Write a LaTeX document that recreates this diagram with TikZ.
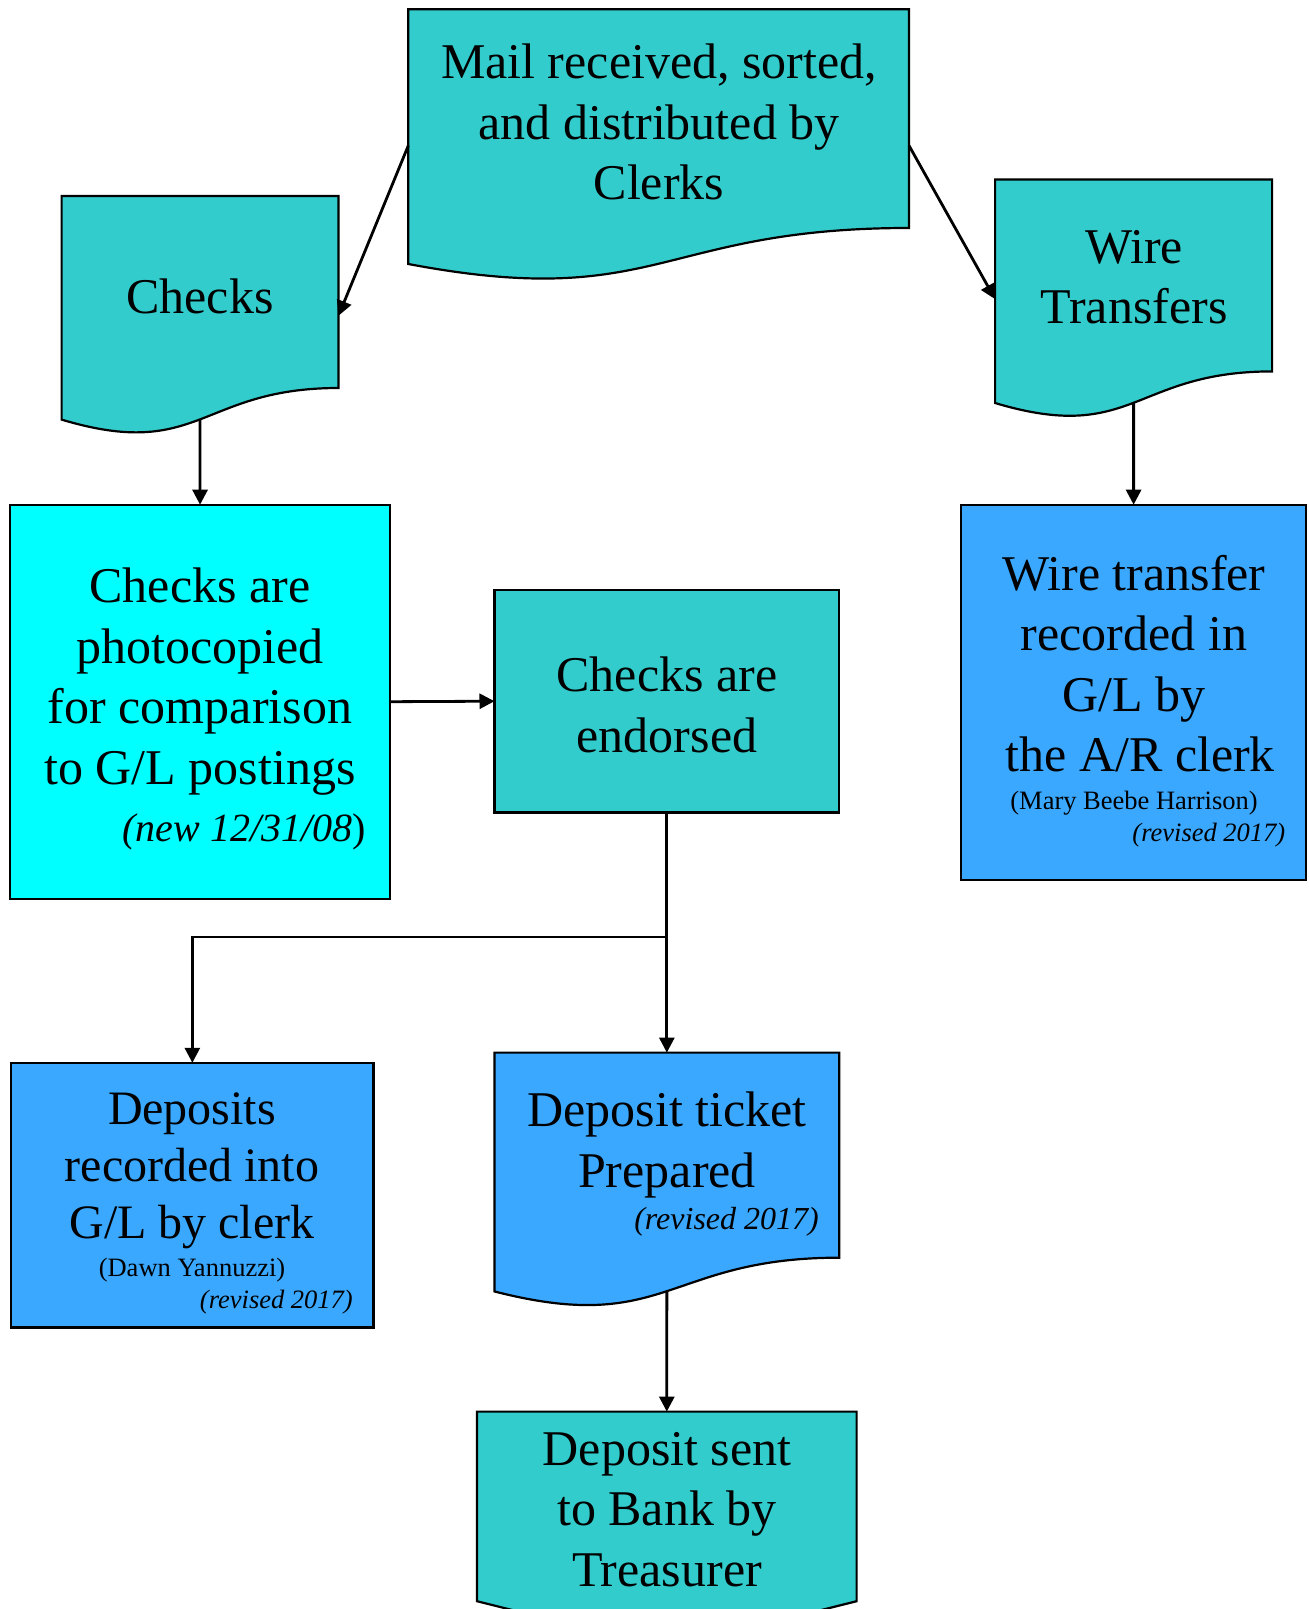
\documentclass[tikz,border=0pt]{standalone}
\usepackage{fontspec}
\setmainfont{Liberation Serif}
\usetikzlibrary{arrows.meta,calc}
\definecolor{tealfill}{RGB}{51,204,204}
\definecolor{cyanfill}{RGB}{0,255,255}
\definecolor{bluefill}{RGB}{58,168,255}
\tikzset{
  shapebox/.style={draw=black, line width=2.2pt, inner sep=0pt, outer sep=0pt},
  frame/.style={draw=none, inner sep=0pt, outer sep=0pt},
  docline/.style={draw=black, line width=2.2pt, line join=miter},
  conn/.style={line width=2.8pt, -{Triangle[length=15pt,width=15pt]}},
  bigtext/.style={align=center, inner sep=0pt, anchor=north, font=\fontsize{50}{60.5}\selectfont},
  midtext/.style={align=center, inner sep=0pt, anchor=north, font=\fontsize{48}{57}\selectfont},
  smalltext/.style={inner sep=0pt, font=\fontsize{26.5}{32}\selectfont},
}
\newcommand\drawdocshape[2]{%
  \draw[docline, fill=#2] (#1.north west) -- (#1.north east)
    -- ($(#1.north east)!0.802!(#1.south east)$)
    .. controls ($(#1.north)!0.802!(#1.south)$) and ($(#1.north)!1.1075!(#1.south)$)
    .. ($(#1.north west)!0.934!(#1.south west)$) -- cycle;}
\begin{document}
\begin{tikzpicture}[x=1pt,y=-1pt]
\useasboundingbox (0,0) rectangle (1309,1609);
\clip (0,0) rectangle (1309,1609);

% document-shaped frames
\node[frame, minimum width=500.7pt, minimum height=272.8pt] (mail) at (658.65,145.6) {};
\node[frame, minimum width=276.9pt, minimum height=239.4pt] (checks) at (200.05,315.7) {};
\node[frame, minimum width=277pt, minimum height=239.3pt] (wire) at (1133.6,299.15) {};
\node[frame, minimum width=344.7pt, minimum height=255.7pt] (ticket) at (666.85,1180.45) {};
\node[frame, minimum width=379.6pt, minimum height=237pt] (sent) at (666.8,1530.1) {};

\drawdocshape{mail}{tealfill}
\drawdocshape{checks}{tealfill}
\drawdocshape{wire}{tealfill}
\drawdocshape{ticket}{bluefill}
\draw[docline, fill=tealfill] (sent.north west) -- (sent.north east)
  -- ($(sent.north east)!0.8!(sent.south east)$) -- (sent.south)
  -- ($(sent.north west)!0.8!(sent.south west)$) -- cycle;

% rectangles
\node[shapebox, fill=cyanfill, minimum width=379.5pt, minimum height=394pt] (photo) at (200.05,701.7) {};
\node[shapebox, fill=tealfill, minimum width=344.7pt, minimum height=222.6pt] (endorsed) at (666.85,701.2) {};
\node[shapebox, fill=bluefill, minimum width=344.8pt, minimum height=375.5pt] (wirerec) at (1133.6,692.45) {};
\node[shapebox, fill=bluefill, minimum width=362.1pt, minimum height=264.7pt] (deposits) at (192.35,1195.15) {};

% texts
\node[bigtext] (mailT) at (659,44) {Mail received, sorted,\\and distributed by\\Clerks};
\node[bigtext] (checksT) at (200,279) {Checks};
\node[bigtext] (wireT) at (1134,230) {Wire\\Transfers};
\node[bigtext] (photoT) at (200,568) {Checks are\\photocopied\\for comparison\\to G/L postings};
\node[inner sep=0pt, anchor=north east, font=\fontsize{40}{48}\selectfont] (photoN) at (366,813.5) {\textit{(new 12/31/08})};
\node[bigtext] (endorsedT) at (667,657) {Checks are\\endorsed};
\node[bigtext] (wirerecT) at (1134,555) {Wire transfer\\recorded in\\G/L by\\\hspace*{12.5pt}the A/R clerk};
\node[smalltext, anchor=north] (wirerecN) at (1134,791) {(Mary Beebe Harrison)};
\node[smalltext, anchor=north east] (wirerecR) at (1285.5,823) {\textit{(revised 2017)}};
\node[midtext] (depositsT) at (192,1092.5) {Deposits\\recorded into\\G/L by clerk};
\node[smalltext, anchor=north] (depositsN) at (192,1258) {(Dawn Yannuzzi)};
\node[smalltext, anchor=north east] (depositsR) at (353,1289.5) {\textit{(revised 2017)}};
\node[bigtext] (ticketT) at (667,1092) {Deposit ticket\\Prepared};
\node[inner sep=0pt, anchor=north east, font=\fontsize{32}{38}\selectfont] (ticketR) at (819,1207.5) {\textit{(revised 2017)}};
\node[bigtext] (sentT) at (667,1432) {Deposit sent\\to Bank by\\Treasurer};

% connectors
\coordinate (checksB) at ($(checks.north)!0.933!(checks.south)$);
\coordinate (wireB) at ($(wire.north)!0.933!(wire.south)$);
\coordinate (ticketB) at ($(ticket.north)!0.933!(ticket.south)$);
\coordinate (branch) at ($(endorsed.south)+(0,124.5)$);
\draw[conn] (mail.west) -- (checks.east);
\draw[conn] (mail.east) -- (wire.west);
\draw[conn] (checksB) -- (photo.north);
\draw[conn] (wireB) -- (wirerec.north);
\draw[conn] (photo.east) -- (endorsed.west);
\draw[conn] (endorsed.south) -- (ticket.north);
\draw[conn] (branch) -| (deposits.north);
\draw[conn] (ticketB) -- (sent.north);
\end{tikzpicture}
\end{document}
